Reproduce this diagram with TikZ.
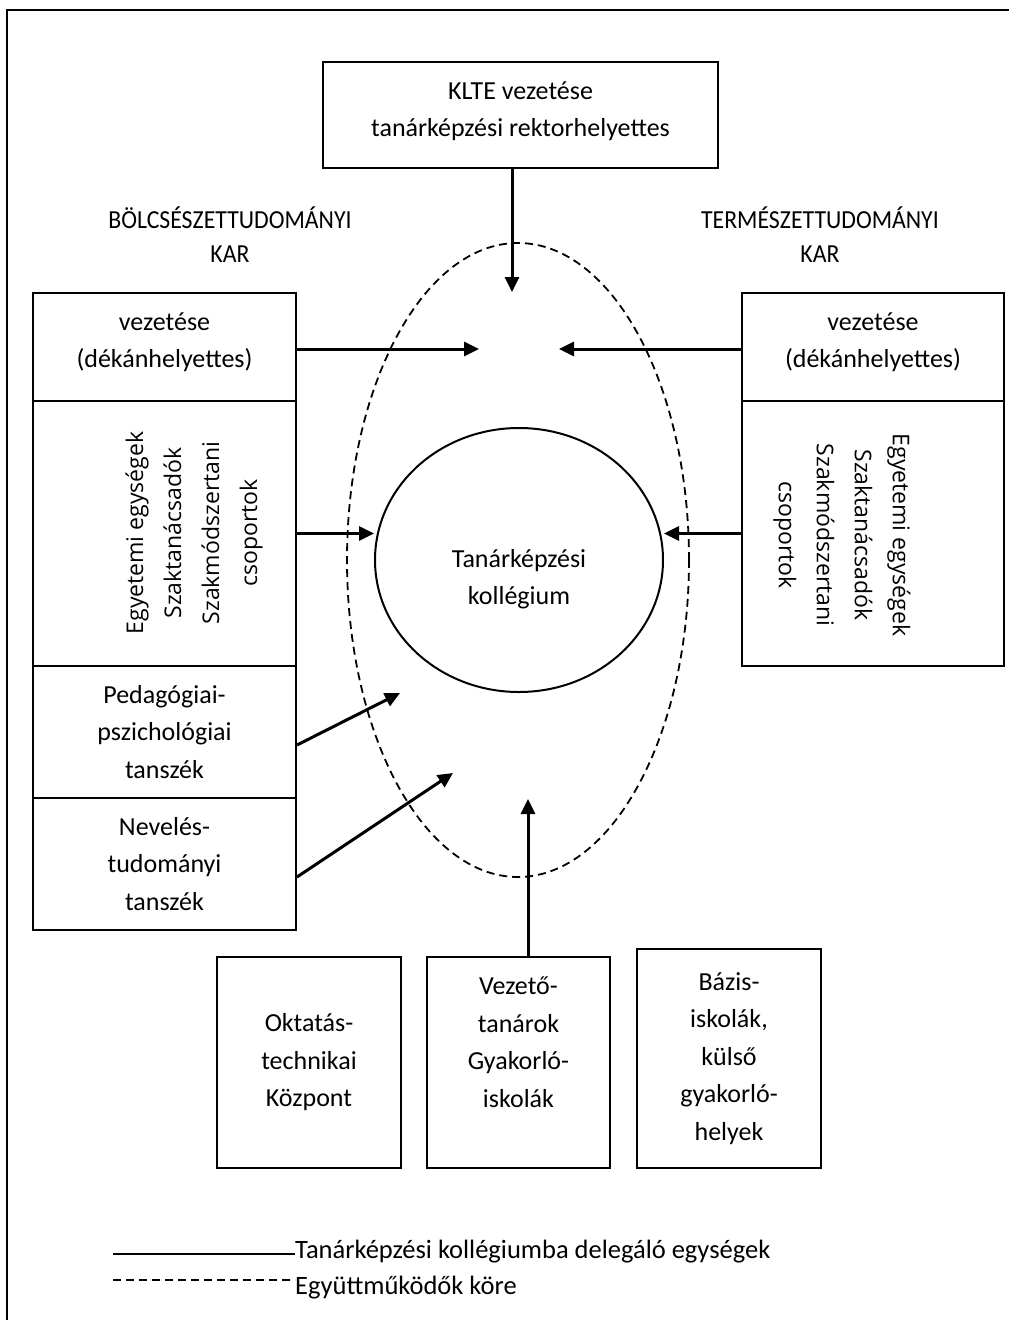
\documentclass[tikz,border=0pt]{standalone}
\usepackage{fontspec}
\setmainfont{Carlito}
\newfontfamily\capsfont{Carlito}[FakeStretch=0.915]
\newfontfamily\osans{Open Sans}
\usetikzlibrary{arrows.meta,shapes.geometric}
\begin{document}
\begin{tikzpicture}[x=1pt,y=-1pt,
 box/.style={draw, line width=2pt, inner sep=0pt, align=center, font=\fontsize{26}{37.5}\selectfont},
 txt/.style={font=\fontsize{26}{37.5}\selectfont, align=center, inner sep=0pt},
 head/.style={font=\capsfont\fontsize{26}{34}\selectfont, align=center, inner sep=0pt},
 legtxt/.style={font=\fontsize{26.5}{36}\selectfont, inner sep=0pt, anchor=base west},
 rot/.style={font=\osans\fontsize{23}{38}\selectfont, align=center, inner sep=0pt},
 arr/.style={line width=3pt, -{Triangle[length=15pt,width=14pt]}},
 dsh/.style={line width=1.8pt, dash pattern=on 8pt off 5pt},
]
\useasboundingbox (0,0) rectangle (1009,1320);
\fill[white] (0,0) rectangle (1009,1320);
% outer frame
\draw[line width=2pt] (1009,10) -- (7,10) -- (7,1320);

% top box
\node[box, minimum width=395pt, minimum height=106pt] (klte) at (520.5,115) {};
\node[txt] (kltetxt) at (520.5,111) {KLTE vezetése\\tanárképzési rektorhelyettes};

% faculty headings
\node[head] (bolcs) at (230,235) {BÖLCSÉSZETTUDOMÁNYI\\KAR};
\node[head] (term) at (820,235) {TERMÉSZETTUDOMÁNYI\\KAR};

% left column
\node[box, minimum width=263pt, minimum height=108pt] (lv) at (164.5,347) {};
\node[txt] (lvtxt) at (164.5,342) {vezetése\\(dékánhelyettes)};
\node[box, minimum width=263pt, minimum height=265pt] (lb2) at (164.5,533.5) {};
\node[rot, rotate=90] (ltxt) at (194,533) {Egyetemi egységek\\Szaktanácsadók\\Szakmódszertani\\csoportok};
\node[box, minimum width=263pt, minimum height=132pt] (ped) at (164.5,732) {Pedagógiai-\\pszichológiai\\tanszék};
\node[box, minimum width=263pt, minimum height=132pt] (nev) at (164.5,864) {Nevelés-\\tudományi\\tanszék};

% right column
\node[box, minimum width=262pt, minimum height=108pt] (rv) at (873,347) {};
\node[txt] (rvtxt) at (873,342) {vezetése\\(dékánhelyettes)};
\node[box, minimum width=262pt, minimum height=265pt] (rb2) at (873,533.5) {};
\node[rot, rotate=-90] (rtxt) at (842,535) {Egyetemi egységek\\Szaktanácsadók\\Szakmódszertani\\csoportok};

% ellipses
\node[draw, dsh, ellipse, inner sep=0pt, minimum width=342pt, minimum height=634pt] (coop) at (518,560) {};
\node[draw, line width=2pt, ellipse, inner sep=0pt, minimum width=288pt, minimum height=264pt] (coll) at (519,560) {};
\node[txt] (colltxt) at (519,579) {Tanárképzési\\kollégium};

% bottom boxes
\node[box, minimum width=184pt, minimum height=211pt] (okt) at (309,1062.5) {Oktatás-\\technikai\\Központ};
\node[box, minimum width=183pt, minimum height=211pt] (vez) at (518.5,1062.5) {};
\node[txt] (veztxt) at (518.5,1042) {Vezető-\\tanárok\\Gyakorló-\\iskolák};
\node[box, minimum width=184pt, minimum height=219pt] (baz) at (729,1058.5) {Bázis-\\iskolák,\\külső\\gyakorló-\\helyek};

% arrow tips
\coordinate (t0) at (512,292);
\coordinate (t1) at (479,349);
\coordinate (t2) at (559,349);
\coordinate (t4) at (400,693);
\coordinate (t5) at (453,773);
\coordinate (t6) at (528,799);

\draw[arr] (klte.south -| t0) -- (t0);
\draw[arr] (lv.east |- t1) -- (t1);
\draw[arr] (rv.west |- t2) -- (t2);
\draw[arr] (lb2.east) -- (lb2.east -| coll.west);
\draw[arr] (rb2.west) -- (rb2.west -| coll.east);
\draw[arr] ([yshift=-13pt]ped.east) -- (t4);
\draw[arr] ([yshift=-13pt]nev.east) -- (t5);
\draw[arr] (vez.north -| t6) -- (t6);

% legend
\coordinate (l1) at (113,1254);
\coordinate (l2) at (113,1280);
\node[legtxt] (leg1) at (295,1258) {Tanárképzési kollégiumba delegáló egységek};
\node[legtxt] (leg2) at (295,1294) {Együttműködők köre};
\draw[line width=2.5pt] (l1) -- (l1 -| leg1.west);
\draw[dsh] (l2) -- (l2 -| leg2.west);
\end{tikzpicture}
\end{document}
